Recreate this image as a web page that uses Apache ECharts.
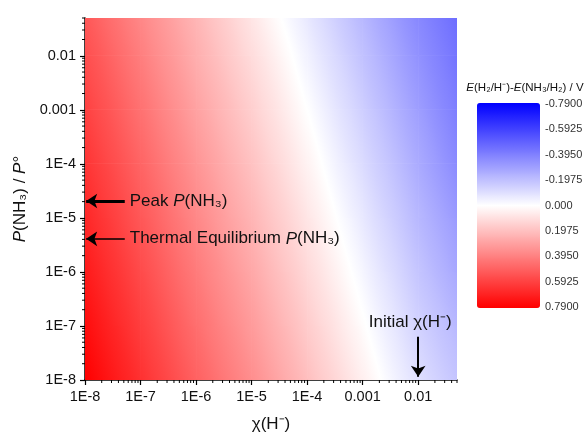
<!DOCTYPE html>
<html>
<head>
<meta charset="utf-8">
<script src="https://cdn.jsdelivr.net/npm/echarts@6/dist/echarts.min.js"></script>
<style>
  html, body { margin: 0; padding: 0; background: #fff; }
  #chart { width: 587px; height: 436px; }
</style>
</head>
<body>
<div id="chart"></div>
<script>
// grid nodes (log decades) and the potential difference read at each node
var xNodes = [1e-8, 1e-7, 1e-6, 1e-5, 1e-4, 1e-3, 1e-2, 0.05];
var yNodes = [1e-8, 1e-7, 1e-6, 1e-5, 1e-4, 1e-3, 1e-2, 0.05];
// rows go from P = 1E-8 (bottom) up to 0.05 (top)
var eGrid = [
    [0.79, 0.64, 0.49, 0.35, 0.20, 0.05, -0.10, -0.18],
    [0.75, 0.60, 0.45, 0.31, 0.16, 0.01, -0.14, -0.22],
    [0.71, 0.56, 0.41, 0.27, 0.12, -0.03, -0.18, -0.27],
    [0.67, 0.52, 0.37, 0.23, 0.08, -0.07, -0.22, -0.31],
    [0.63, 0.48, 0.33, 0.19, 0.04, -0.11, -0.26, -0.36],
    [0.59, 0.44, 0.29, 0.15, 0.00, -0.15, -0.30, -0.40],
    [0.55, 0.40, 0.25, 0.11, -0.04, -0.19, -0.34, -0.43],
    [0.52, 0.37, 0.23, 0.08, -0.07, -0.22, -0.37, -0.45]
];
var xTickLabels = ['1E-8', '1E-7', '1E-6', '1E-5', '1E-4', '0.001', '0.01'];
var yTickLabels = ['1E-8', '1E-7', '1E-6', '1E-5', '1E-4', '0.001', '0.01'];
var scaleLabels = ['-0.7900', '-0.5925', '-0.3950', '-0.1975', '0.000', '0.1975', '0.3950', '0.5925', '0.7900'];
var E_MAX = 0.79;

// annotations
var peakP = 2.05e-5;
var thermalP = 4.1e-6;
var initialChi = 0.01;

var FONT = 'Arial, "Liberation Sans", sans-serif';

// build cells for the custom series
var cells = [];
for (var j = 0; j < yNodes.length - 1; j++) {
    for (var i = 0; i < xNodes.length - 1; i++) {
        cells.push([
            xNodes[i], xNodes[i + 1], yNodes[j], yNodes[j + 1],
            eGrid[j][i], eGrid[j][i + 1], eGrid[j + 1][i], eGrid[j + 1][i + 1]
        ]);
    }
}

// log minor ticks (2..9 within each decade)
var minorX = [], minorY = [];
for (var d = -8; d <= -2; d++) {
    for (var m = 2; m <= 9; m++) {
        var mv = m * Math.pow(10, d);
        if (mv <= 0.05 * 1.0001) {
            minorX.push([mv, 1e-8]);
            minorY.push([1e-8, mv]);
        }
    }
}

// red - white - blue
function colorOf(v) {
    var t = Math.max(-1, Math.min(1, v / E_MAX));
    var r, g, b;
    if (t >= 0) { r = 255; g = b = Math.round(255 * (1 - t)); }
    else { r = g = Math.round(255 * (1 + t)); b = 255; }
    return 'rgb(' + r + ',' + g + ',' + b + ')';
}

function renderCell(params, api) {
    var x0 = api.value(0), x1 = api.value(1), y0 = api.value(2), y1 = api.value(3);
    var v00 = api.value(4), v10 = api.value(5), v01 = api.value(6), v11 = api.value(7);
    var pA = api.coord([x0, y0]);
    var pB = api.coord([x1, y1]);
    var w = pB[0] - pA[0], h = pA[1] - pB[1];
    // gradient of value in pixel space (y downwards)
    var gx = ((v10 - v00) + (v11 - v01)) / 2 / w;
    var gy = ((v00 - v01) + (v10 - v11)) / 2 / h;
    var cx = pA[0] + w / 2, cy = pB[1] + h / 2;
    var vc = (v00 + v10 + v01 + v11) / 4;
    var g = Math.sqrt(gx * gx + gy * gy) || 1e-9;
    var ux = gx / g, uy = gy / g;
    var L = Math.sqrt(w * w + h * h) / 2;
    var vlo = vc - g * L, vhi = vc + g * L;
    var stops = [];
    for (var k = 0; k <= 8; k++) {
        var t = k / 8;
        stops.push({ offset: t, color: colorOf(vlo + (vhi - vlo) * t) });
    }
    if (vlo < 0 && vhi > 0) {
        stops.push({ offset: -vlo / (vhi - vlo), color: '#ffffff' });
        stops.sort(function(a, b) { return a.offset - b.offset; });
    }
    var grad = new echarts.graphic.LinearGradient(
        cx - ux * L, cy - uy * L, cx + ux * L, cy + uy * L, stops, true);
    return {
        type: 'rect',
        shape: { x: pA[0], y: pB[1], width: w, height: h },
        style: { fill: grad, stroke: grad, lineWidth: 0.8 }
    };
}

function renderMinorX(params, api) {
    var p = api.coord([api.value(0), api.value(1)]);
    return {
        type: 'line',
        shape: { x1: p[0], y1: p[1], x2: p[0], y2: p[1] + 3 },
        style: { stroke: '#000', lineWidth: 1 }
    };
}

function renderMinorY(params, api) {
    var p = api.coord([api.value(0), api.value(1)]);
    return {
        type: 'line',
        shape: { x1: p[0] - 3, y1: p[1], x2: p[0], y2: p[1] },
        style: { stroke: '#000', lineWidth: 1 }
    };
}

function decadeLabel(v, labels) {
    var lg = Math.log10(v);
    if (Math.abs(lg - Math.round(lg)) > 1e-6) return '';
    return labels[Math.round(lg) + 8] || '';
}

var chart = echarts.init(document.getElementById('chart'));

var option = {
    backgroundColor: '#ffffff',
    animation: false,
    textStyle: { fontFamily: FONT },
    grid: [
        { left: 85, top: 18, width: 372, height: 362, containLabel: false, outerBoundsMode: 'none' },
        { left: 540, top: 104, width: 1, height: 203, containLabel: false, outerBoundsMode: 'none' }
    ],
    xAxis: [
        {
            type: 'log',
            gridIndex: 0,
            min: 1e-8,
            max: 0.05,
            logBase: 10,
            name: 'χ(H⁻)',
            nameLocation: 'middle',
            nameGap: 36,
            nameTextStyle: { fontSize: 17, color: '#111', fontFamily: FONT },
            axisLine: { lineStyle: { color: '#000', width: 1.5 } },
            axisTick: { inside: false, length: 5, lineStyle: { color: '#000', width: 1.2 } },
            splitLine: { show: false },
            axisLabel: {
                fontSize: 14.5,
                color: '#111',
                margin: 9,
                showMaxLabel: false,
                formatter: function(v) { return decadeLabel(v, xTickLabels); }
            }
        },
        { type: 'value', gridIndex: 1, show: false, min: 0, max: 1 }
    ],
    yAxis: [
        {
            type: 'log',
            gridIndex: 0,
            min: 1e-8,
            max: 0.05,
            logBase: 10,
            name: '{i|P}(NH₃) / {i|P}°',
            nameLocation: 'middle',
            nameRotate: 90,
            nameGap: 54,
            nameTextStyle: {
                fontSize: 17, color: '#111', fontFamily: FONT,
                rich: { i: { fontStyle: 'italic', fontSize: 17, color: '#111', fontFamily: FONT } }
            },
            axisLine: { lineStyle: { color: '#000', width: 1.5 } },
            axisTick: { inside: false, length: 5, lineStyle: { color: '#000', width: 1.2 } },
            splitLine: { show: false },
            axisLabel: {
                fontSize: 14.5,
                color: '#111',
                margin: 9,
                showMaxLabel: false,
                formatter: function(v) { return decadeLabel(v, yTickLabels); }
            }
        },
        {
            type: 'value',
            gridIndex: 1,
            position: 'right',
            min: -0.79,
            max: 0.79,
            interval: 0.1975,
            inverse: true,
            axisLine: { show: false },
            axisTick: { show: false },
            splitLine: { show: false },
            axisLabel: {
                fontSize: 11,
                color: '#333',
                margin: 4,
                formatter: function(v) {
                    return scaleLabels[Math.round((v + 0.79) / 0.1975)];
                }
            }
        }
    ],
    visualMap: {
        type: 'continuous',
        seriesIndex: 0,
        dimension: 7,
        min: -E_MAX,
        max: E_MAX,
        inverse: true,
        calculable: false,
        realtime: false,
        hoverLink: false,
        orient: 'vertical',
        left: 477,
        top: 103,
        padding: 0,
        itemWidth: 63,
        itemHeight: 205,
        text: null,
        inRange: { color: ['#0000ff', '#ffffff', '#ff0000'] }
    },
    graphic: [
        {
            type: 'text',
            x: 525,
            y: 88,
            style: {
                text: '{i|E}(H₂/H⁻)-{i|E}(NH₃/H₂) / V',
                fontSize: 11.5,
                fontFamily: FONT,
                fill: '#111',
                align: 'center',
                verticalAlign: 'middle',
                rich: { i: { fontStyle: 'italic', fontSize: 11.5, fontFamily: FONT } }
            }
        }
    ],
    series: [
        {
            type: 'custom',
            xAxisIndex: 0,
            yAxisIndex: 0,
            clip: true,
            silent: true,
            renderItem: renderCell,
            encode: { x: [0, 1], y: [2, 3] },
            data: cells,
            z: 1
        },
        {
            type: 'custom',
            xAxisIndex: 0,
            yAxisIndex: 0,
            clip: false,
            silent: true,
            renderItem: renderMinorX,
            data: minorX,
            z: 3
        },
        {
            type: 'custom',
            xAxisIndex: 0,
            yAxisIndex: 0,
            clip: false,
            silent: true,
            renderItem: renderMinorY,
            data: minorY,
            z: 3
        },
        {
            type: 'line',
            xAxisIndex: 0,
            yAxisIndex: 0,
            data: [],
            silent: true,
            z: 5,
            markLine: {
                silent: true,
                animation: false,
                symbol: ['none', 'arrow'],
                symbolSize: 11,
                lineStyle: { color: '#000', type: 'solid' },
                label: {
                    show: true,
                    position: 'start',
                    distance: 5,
                    fontSize: 17,
                    color: '#111',
                    fontFamily: FONT,
                    rich: { i: { fontStyle: 'italic', fontSize: 17, color: '#111', fontFamily: FONT } }
                },
                data: [
                    [
                        { coord: [5.2e-8, peakP], lineStyle: { width: 3 }, label: { formatter: 'Peak {i|P}(NH₃)' } },
                        { coord: [1.05e-8, peakP] }
                    ],
                    [
                        { coord: [5.2e-8, thermalP], lineStyle: { width: 1.6 }, label: { formatter: 'Thermal Equilibrium {i|P}(NH₃)' } },
                        { coord: [1.05e-8, thermalP] }
                    ],
                    [
                        { coord: [initialChi, 6.3e-8], lineStyle: { width: 2 }, label: { formatter: 'Initial χ(H⁻)', distance: 6, offset: [-8, 0] } },
                        { coord: [initialChi, 1.15e-8] }
                    ]
                ]
            }
        }
    ]
};

chart.setOption(option);

window.addEventListener('resize', function() {
    chart.resize();
});
</script>
</body>
</html>
